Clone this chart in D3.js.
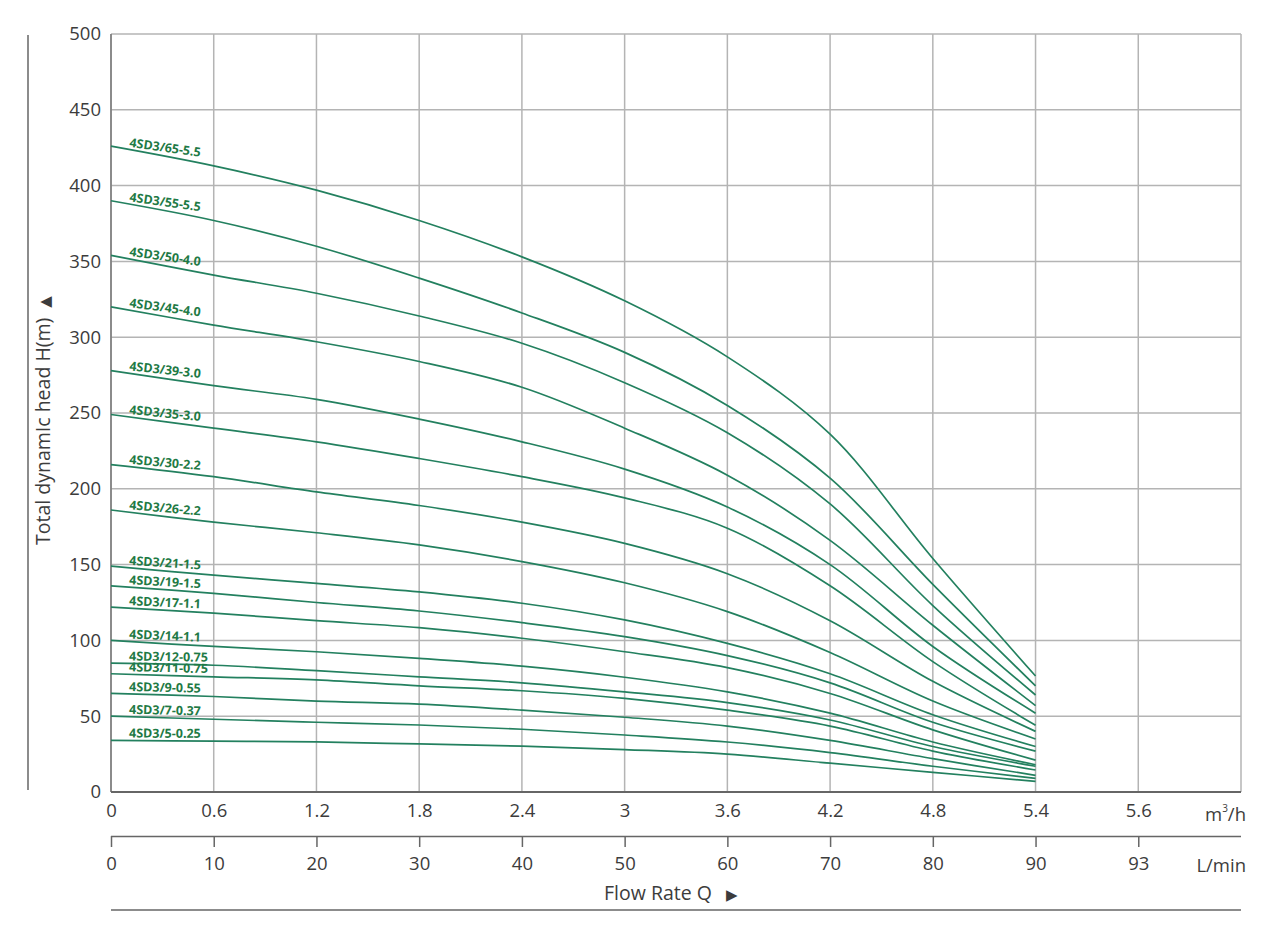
<!DOCTYPE html>
<html>
<head>
<meta charset="utf-8">
<script src="https://cdn.jsdelivr.net/npm/d3@7"></script>
<style>
  body { margin: 0; background: #fff; }
  #chart svg { display: block; }
</style>
</head>
<body>
<div id="chart"></div>
<script>
// 流量点 (m³/h)
const flowPoints = [0, 0.6, 1.2, 1.8, 2.4, 3.0, 3.6, 4.2, 4.8, 5.4];

// 泵型号及扬程 (m)，对应 flowPoints
const pumpModels = [
  "4SD3/65-5.5", "4SD3/55-5.5", "4SD3/50-4.0", "4SD3/45-4.0", "4SD3/39-3.0",
  "4SD3/35-3.0", "4SD3/30-2.2", "4SD3/26-2.2", "4SD3/21-1.5", "4SD3/19-1.5",
  "4SD3/17-1.1", "4SD3/14-1.1", "4SD3/12-0.75", "4SD3/11-0.75", "4SD3/9-0.55",
  "4SD3/7-0.37", "4SD3/5-0.25"
];
const headValues = [
  [426, 413, 397, 377, 353, 324, 287, 236, 154, 76.5],
  [390, 377, 360, 339, 316, 290, 255, 207, 137, 70],
  [354, 341, 329, 314, 296, 270, 237, 190, 123, 64],
  [320, 308, 297, 284, 267, 240, 209, 166, 110, 57],
  [278, 268, 259, 246, 231, 213, 188, 150, 96, 52],
  [249, 240, 231, 220, 208, 194, 174, 136, 86, 44],
  [216, 208, 198, 189, 178, 164, 144, 113, 73, 40],
  [186, 178, 171, 163, 152, 138, 119, 92, 60, 35],
  [149, 143, 137.6, 132, 124.5, 113.5, 98, 78, 51, 30],
  [136, 131, 125, 119.4, 111.7, 102.5, 90, 72, 46, 27],
  [122, 118, 113, 108.4, 101.4, 92.5, 82, 65, 41, 21],
  [100, 96, 92.5, 88.2, 83, 75.7, 66, 52, 33, 18],
  [85, 83.6, 80, 76, 72, 66, 59, 47.5, 30, 17],
  [78, 76, 74, 70, 66.8, 61.8, 54, 43.5, 27, 14.5],
  [65, 63, 60, 58, 54, 49.3, 43.5, 34, 22, 11],
  [50, 48, 46, 44.2, 41.4, 37.6, 33, 26, 17, 9],
  [34, 33.6, 33, 31.7, 30.3, 28, 25, 19, 13, 7]
];

// 刻度
const yTicks = [0, 50, 100, 150, 200, 250, 300, 350, 400, 450, 500];
const gridFlows = [0, 0.6, 1.2, 1.8, 2.4, 3.0, 3.6, 4.2, 4.8, 5.4, 6.0, 6.6];
const m3hLabels = ["0", "0.6", "1.2", "1.8", "2.4", "3", "3.6", "4.2", "4.8", "5.4", "5.6"];
const lpmLabels = ["0", "10", "20", "30", "40", "50", "60", "70", "80", "90", "93"];

document.addEventListener('DOMContentLoaded', function () {
  const width = 1280, height = 925;
  const left = 111, right = 1241, top = 34, bottom = 792;
  const font = "'Open Sans', 'DejaVu Sans', sans-serif";
  const fs = 18.5;
  const textColor = "#3c3c3c";
  const gridColor = "#b4b4b4";
  const lineColor = "#23805f";
  const labelColor = "#1f7a45";

  const svg = d3.select("#chart").append("svg")
    .attr("width", width)
    .attr("height", height)
    .attr("viewBox", `0 0 ${width} ${height}`)
    .style("background-color", "#fff");

  const x = d3.scaleLinear().domain([0, 6.6]).range([left, right]);
  const y = d3.scaleLinear().domain([0, 500]).range([bottom, top]);

  // --- 网格 ---
  const grid = svg.append("g");
  grid.selectAll("line.v").data(gridFlows).join("line")
    .attr("x1", d => x(d)).attr("x2", d => x(d))
    .attr("y1", top).attr("y2", bottom)
    .attr("stroke", gridColor).attr("stroke-width", 1.5);
  grid.selectAll("line.h").data(yTicks).join("line")
    .attr("x1", left).attr("x2", right)
    .attr("y1", d => y(d)).attr("y2", d => y(d))
    .attr("stroke", gridColor).attr("stroke-width", 1.5);
  // 边框左侧与底部较深
  svg.append("line").attr("x1", left).attr("x2", left).attr("y1", top).attr("y2", bottom)
    .attr("stroke", "#777").attr("stroke-width", 1.5);
  svg.append("line").attr("x1", left).attr("x2", right).attr("y1", bottom).attr("y2", bottom)
    .attr("stroke", "#666").attr("stroke-width", 2);

  // --- Y 轴 ---
  const yAxis = svg.append("g")
    .attr("transform", `translate(${left},0)`)
    .call(d3.axisLeft(y).tickValues(yTicks).tickSize(0).tickPadding(10));
  yAxis.select(".domain").remove();
  yAxis.selectAll("text")
    .attr("font-family", font).attr("font-size", fs).attr("fill", textColor);

  svg.append("line").attr("x1", 28).attr("x2", 28).attr("y1", top + 1).attr("y2", bottom - 2)
    .attr("stroke", "#666").attr("stroke-width", 1.5);
  const yTitle = svg.append("text")
    .attr("transform", `translate(50,${545}) rotate(-90)`)
    .attr("text-anchor", "start")
    .attr("font-family", font).attr("font-size", 19.5).attr("fill", textColor);
  yTitle.append("tspan").text("Total dynamIc head H(m)");
  yTitle.append("tspan").attr("dx", 10).attr("font-size", 15).text("\u25B2");

  // --- X 轴 (m³/h) ---
  const xAxis1 = svg.append("g")
    .attr("transform", `translate(0,${bottom})`)
    .call(d3.axisBottom(x).tickValues(gridFlows.slice(0, m3hLabels.length))
      .tickSize(0).tickPadding(12).tickFormat((d, i) => m3hLabels[i]));
  xAxis1.select(".domain").remove();
  xAxis1.selectAll("text")
    .attr("font-family", font).attr("font-size", fs).attr("fill", textColor);
  const unit1 = svg.append("text")
    .attr("x", 1246).attr("y", 821).attr("text-anchor", "end")
    .attr("font-family", font).attr("font-size", fs).attr("fill", textColor);
  unit1.append("tspan").text("m");
  unit1.append("tspan").attr("font-size", 10).attr("dy", -9).text("3");
  unit1.append("tspan").attr("dy", 9).text("/h");

  // --- X 轴 (L/min) ---
  const xAxis2 = svg.append("g")
    .attr("transform", "translate(0,836)")
    .call(d3.axisBottom(x).tickValues(gridFlows.slice(0, lpmLabels.length))
      .tickSize(11).tickSizeOuter(0).tickPadding(10).tickFormat((d, i) => lpmLabels[i]));
  xAxis2.select(".domain").attr("d", `M${left},0.5H${right}`).attr("stroke", "#666").attr("stroke-width", 1.5);
  xAxis2.selectAll(".tick line").attr("stroke", "#666").attr("stroke-width", 1.5);
  xAxis2.selectAll("text")
    .attr("font-family", font).attr("font-size", fs).attr("fill", textColor);
  svg.append("text")
    .attr("x", 1246).attr("y", 872).attr("text-anchor", "end")
    .attr("font-family", font).attr("font-size", fs).attr("fill", textColor)
    .text("L/min");

  const xTitle = svg.append("text")
    .attr("x", 604).attr("y", 900)
    .attr("font-family", font).attr("font-size", 19.5).attr("fill", textColor);
  xTitle.append("tspan").text("Flow Rate Q");
  xTitle.append("tspan").attr("dx", 14).attr("font-size", 15).text("\u25B6");
  svg.append("line").attr("x1", left).attr("x2", right).attr("y1", 910).attr("y2", 910)
    .attr("stroke", "#666").attr("stroke-width", 1.5);

  // --- 曲线 ---
  const line = d3.line()
    .x(d => x(d[0]))
    .y(d => y(d[1]))
    .curve(d3.curveCatmullRom.alpha(0.5));

  const series = pumpModels.map((name, i) => ({
    name: name,
    points: flowPoints.map((f, j) => [f, headValues[i][j]])
  }));

  svg.append("g").selectAll("path").data(series).join("path")
    .attr("d", d => line(d.points))
    .attr("fill", "none")
    .attr("stroke", lineColor)
    .attr("stroke-width", 1.7);

  // --- 型号标签 ---
  svg.append("g").selectAll("text").data(series).join("text")
    .attr("transform", d => {
      const p0 = d.points[0], p1 = d.points[1];
      const slope = (y(p1[1]) - y(p0[1])) / (x(p1[0]) - x(p0[0]));
      const angle = Math.atan(slope) * 180 / Math.PI * 0.75;
      const lx = 129;
      const ly = y(p0[1]) + slope * (lx - x(p0[0])) - 3;
      return `translate(${lx},${ly}) rotate(${angle})`;
    })
    .attr("font-family", font).attr("font-size", 12.5).attr("font-weight", "bold")
    .attr("fill", labelColor)
    .text(d => d.name);
});
</script>
</body>
</html>
